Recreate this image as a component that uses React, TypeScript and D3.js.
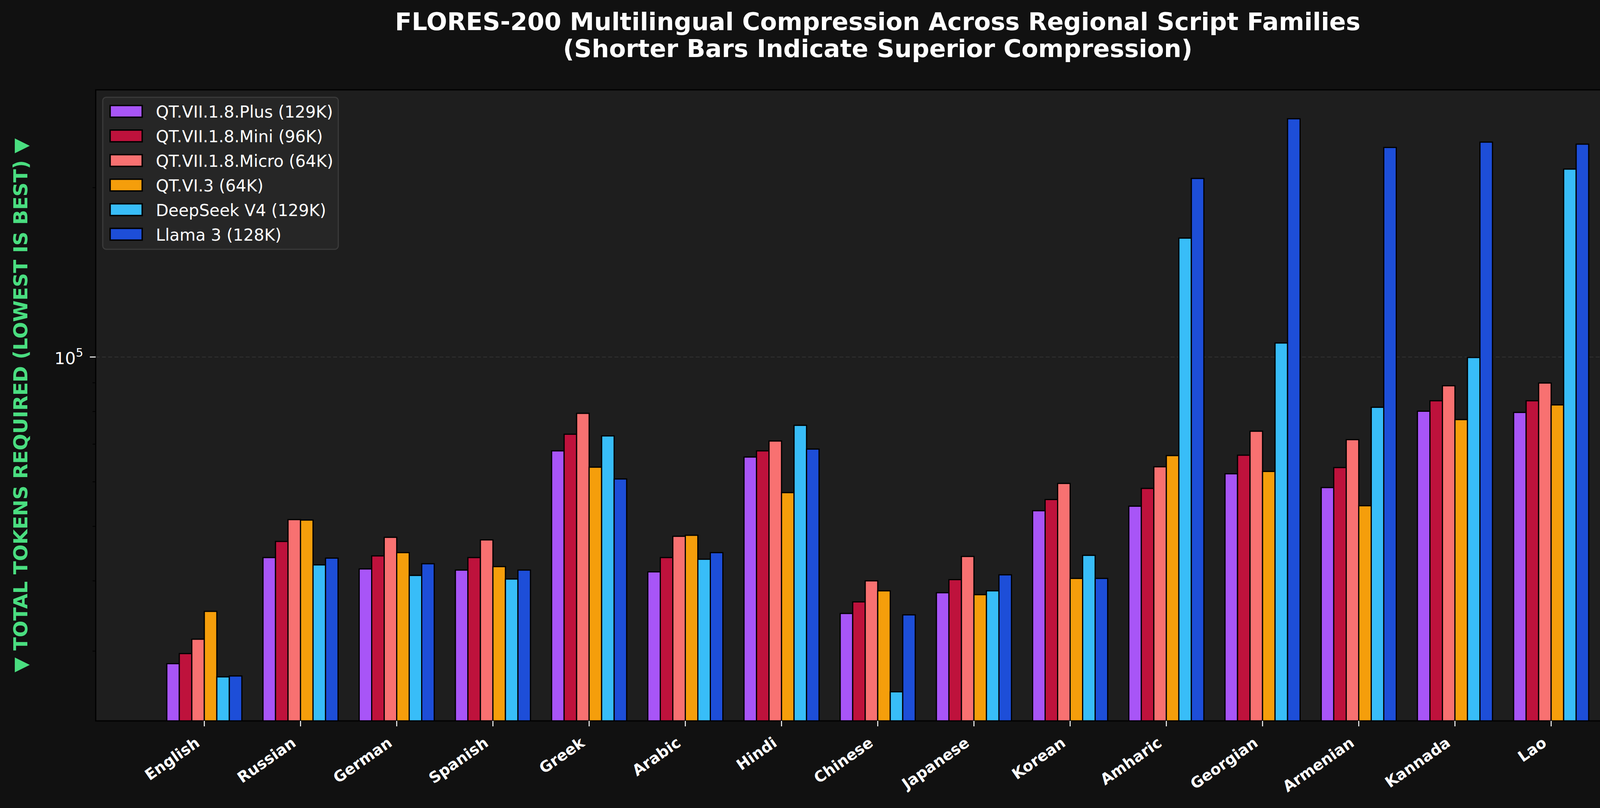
import { useEffect, useRef } from "react";
import { select, scaleLinear, scaleLog } from "d3";

const categories = [
  "English", "Russian", "German", "Spanish", "Greek", "Arabic", "Hindi", "Chinese",
  "Japanese", "Korean", "Amharic", "Georgian", "Armenian", "Kannada", "Lao",
];

const seriesNames = [
  "QT.VII.1.8.Plus (129K)",
  "QT.VII.1.8.Mini (96K)",
  "QT.VII.1.8.Micro (64K)",
  "QT.VI.3 (64K)",
  "DeepSeek V4 (129K)",
  "Llama 3 (128K)",
];

const seriesColors = ["#a855f7", "#be123c", "#f87171", "#f59e0b", "#38bdf8", "#1d4ed8"];

// token counts
const plusValues = [28500, 44000, 42000, 41800, 68100, 41500, 66400, 35000, 38100, 53300, 54300, 62000, 58600, 80100, 79700];
const miniValues = [29700, 47000, 44300, 44000, 72900, 44000, 68100, 36700, 40200, 55800, 58400, 66900, 63600, 83600, 83600];
const microValues = [31500, 51400, 47800, 47300, 79400, 48000, 70900, 40000, 44200, 59600, 63800, 73800, 71300, 88900, 89900];
const qt6Values = [35300, 51300, 44900, 42400, 63700, 48200, 57400, 38400, 37800, 40400, 66800, 62600, 54400, 77400, 82200];
const deepseekValues = [27000, 42700, 40900, 40300, 72400, 43700, 75600, 25400, 38400, 44400, 162700, 105900, 81400, 99800, 215800];
const llamaValues = [27100, 43900, 42900, 41800, 60700, 44900, 68600, 34800, 41000, 40400, 207700, 265200, 235800, 241000, 239000];

const allSeries = [plusValues, miniValues, microValues, qt6Values, deepseekValues, llamaValues];

const yLimits = [22550, 298500];
const majorTicks = [100000];
const minorTicks = [30000, 40000, 50000, 60000, 70000, 80000, 90000, 200000];

const W = 4278;
const H = 2068;
const FONT = "'DejaVu Sans', Verdana, sans-serif";

export default function App() {
  const svgRef = useRef<SVGSVGElement | null>(null);

  useEffect(() => {
    document.body.style.margin = "0";
    document.body.style.background = "#111111";
    if (!svgRef.current) return;
    const svg = select(svgRef.current);
    svg.selectAll("*").remove();

    const left = 245;
    const right = 4249;
    const top = 230;
    const bottom = 1845;

    const barW = 0.13;
    const n = categories.length;
    const lo = -2.5 * barW - barW / 2;
    const hi = n - 1 + 2.5 * barW + barW / 2;
    const pad = (hi - lo) * 0.05;

    const x = scaleLinear().domain([lo - pad, hi + pad]).range([left, right]);
    const y = scaleLog().domain(yLimits).range([bottom, top]);

    svg.append("rect").attr("width", W).attr("height", H).attr("fill", "#111111");

    svg
      .append("rect")
      .attr("x", left)
      .attr("y", top)
      .attr("width", right - left)
      .attr("height", bottom - top)
      .attr("fill", "#1e1e1e");

    svg
      .append("defs")
      .append("clipPath")
      .attr("id", "plot-clip")
      .append("rect")
      .attr("x", left)
      .attr("y", top)
      .attr("width", right - left)
      .attr("height", bottom - top);

    // grid
    svg
      .append("g")
      .selectAll("line")
      .data(majorTicks)
      .enter()
      .append("line")
      .attr("x1", left)
      .attr("x2", right)
      .attr("y1", (d) => y(d))
      .attr("y2", (d) => y(d))
      .attr("stroke", "#333333")
      .attr("stroke-width", 2)
      .attr("stroke-dasharray", "10,6");

    const content = svg.append("g").attr("clip-path", "url(#plot-clip)");

    allSeries.forEach((vals, j) => {
      content
        .selectAll(`rect.s${j}`)
        .data(vals)
        .enter()
        .append("rect")
        .attr("class", `s${j}`)
        .attr("x", (_d, i) => x(i + (j - 2.5) * barW - barW / 2))
        .attr("width", x(barW) - x(0))
        .attr("y", (d) => y(d))
        .attr("height", (d) => bottom + 10 - y(d))
        .attr("fill", seriesColors[j])
        .attr("stroke", "#000000")
        .attr("stroke-width", 3);
    });

    // spines
    svg
      .append("rect")
      .attr("x", left)
      .attr("y", top)
      .attr("width", right - left)
      .attr("height", bottom - top)
      .attr("fill", "none")
      .attr("stroke", "#000000")
      .attr("stroke-width", 3);

    // y ticks
    const yAxis = svg.append("g");
    yAxis
      .selectAll("line.minor")
      .data(minorTicks)
      .enter()
      .append("line")
      .attr("class", "minor")
      .attr("x1", left - 8)
      .attr("x2", left)
      .attr("y1", (d) => y(d))
      .attr("y2", (d) => y(d))
      .attr("stroke", "#000000")
      .attr("stroke-width", 2);

    yAxis
      .selectAll("line.major")
      .data(majorTicks)
      .enter()
      .append("line")
      .attr("class", "major")
      .attr("x1", left - 15)
      .attr("x2", left)
      .attr("y1", (d) => y(d))
      .attr("y2", (d) => y(d))
      .attr("stroke", "#ffffff")
      .attr("stroke-width", 2.5);

    const tickText = yAxis
      .selectAll("text")
      .data(majorTicks)
      .enter()
      .append("text")
      .attr("x", left - 32)
      .attr("y", (d) => y(d) + 18)
      .attr("text-anchor", "end")
      .attr("fill", "#ffffff")
      .style("font-family", FONT)
      .style("font-size", "43px");
    tickText.append("tspan").text("10");
    tickText
      .append("tspan")
      .attr("dy", -19)
      .style("font-size", "30px")
      .text((d) => String(Math.round(Math.log10(d))));

    // x ticks
    const xAxis = svg.append("g");
    xAxis
      .selectAll("line")
      .data(categories)
      .enter()
      .append("line")
      .attr("x1", (_d, i) => x(i))
      .attr("x2", (_d, i) => x(i))
      .attr("y1", bottom)
      .attr("y2", bottom + 14)
      .attr("stroke", "#ffffff")
      .attr("stroke-width", 2.5);

    xAxis
      .selectAll("text")
      .data(categories)
      .enter()
      .append("text")
      .attr("transform", (_d, i) => `translate(${x(i) - 9},${1907}) rotate(-35)`)
      .attr("text-anchor", "end")
      .attr("fill", "#ffffff")
      .style("font-family", FONT)
      .style("font-size", "39px")
      .style("font-weight", "bold")
      .text((d) => d);

    // y label
    svg
      .append("text")
      .attr("transform", `translate(70,${(top + bottom) / 2}) rotate(-90)`)
      .attr("text-anchor", "middle")
      .attr("fill", "#4ade80")
      .style("font-family", FONT)
      .style("font-size", "50px")
      .style("font-weight", "bold")
      .text("▼ TOTAL TOKENS REQUIRED (LOWEST IS BEST) ▼");

    // title
    const title = svg
      .append("text")
      .attr("text-anchor", "middle")
      .attr("fill", "#ffffff")
      .style("font-family", FONT)
      .style("font-size", "62.5px")
      .style("font-weight", "bold");
    title.append("tspan").attr("x", (left + right) / 2).attr("y", 77)
      .text("FLORES-200 Multilingual Compression Across Regional Script Families");
    title.append("tspan").attr("x", (left + right) / 2).attr("y", 146)
      .text("(Shorter Bars Indicate Superior Compression)");

    // legend
    const legend = svg.append("g");
    legend
      .append("rect")
      .attr("x", 263)
      .attr("y", 249)
      .attr("width", 603)
      .attr("height", 389)
      .attr("rx", 9)
      .attr("fill", "#262626")
      .attr("stroke", "#3a3a3a")
      .attr("stroke-width", 3);

    const rows = legend
      .selectAll("g.row")
      .data(seriesNames)
      .enter()
      .append("g")
      .attr("class", "row")
      .attr("transform", (_d, i) => `translate(0,${285 + i * 62.9})`);

    rows
      .append("rect")
      .attr("x", 282)
      .attr("y", -15)
      .attr("width", 82)
      .attr("height", 30)
      .attr("fill", (_d, i) => seriesColors[i])
      .attr("stroke", "#000000")
      .attr("stroke-width", 3.5);

    rows
      .append("text")
      .attr("x", 399)
      .attr("y", 16)
      .attr("fill", "#ffffff")
      .style("font-family", FONT)
      .style("font-size", "42px")
      .text((d) => d);
  }, []);

  return <svg ref={svgRef} width={W} height={H} style={{ display: "block" }} />;
}
